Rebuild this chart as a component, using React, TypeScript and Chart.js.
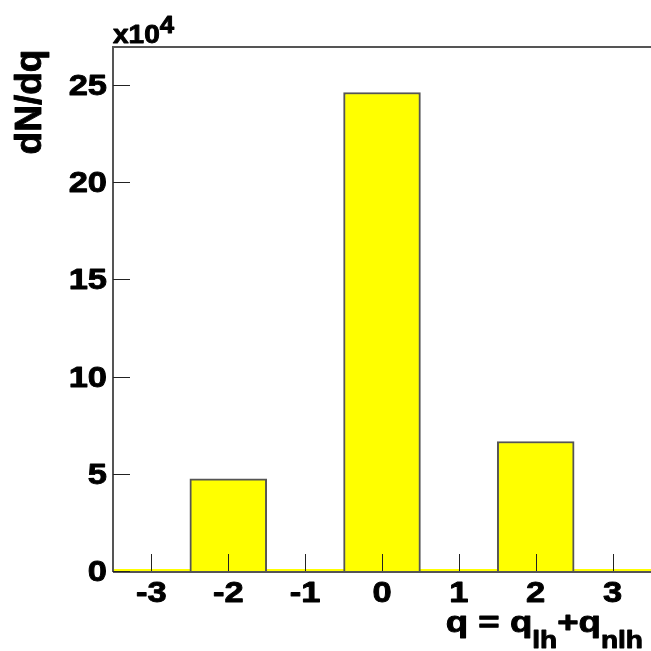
import React, { useEffect, useRef } from 'react';
import { Chart, registerables } from 'chart.js';

Chart.register(...registerables);

// ---- data ----
const categories: string[] = ['-3', '-2', '-1', '0', '1', '2', '3'];
const counts: number[] = [0, 47400, 0, 246100, 0, 66600, 0];
const yTickValues: number[] = [0, 50000, 100000, 150000, 200000, 250000];
const yMax = 269500;
const yExponent = 4;
const yTitle = 'dN/dq';
const xTitleParts: { text: string; sub: boolean }[] = [
  { text: 'q = q', sub: false },
  { text: 'lh', sub: true },
  { text: '+q', sub: false },
  { text: 'nlh', sub: true },
];

const FONT = '"Liberation Sans", Arial, Helvetica, sans-serif';
const FRAME = '#555555';

function sText(ctx: CanvasRenderingContext2D, text: string, x: number, y: number, align: CanvasTextAlign, font: string, sx: number) {
  ctx.save();
  ctx.font = font;
  ctx.translate(x, y);
  ctx.scale(sx, 1);
  ctx.textAlign = align;
  ctx.textBaseline = 'alphabetic';
  ctx.fillStyle = '#000';
  ctx.strokeStyle = '#000';
  ctx.lineWidth = 0.9;
  ctx.lineJoin = 'round';
  ctx.fillText(text, 0, 0);
  ctx.strokeText(text, 0, 0);
  ctx.restore();
}

const rootPlugin = {
  id: 'rootStyle',
  beforeDatasetsDraw(chart: any) {
    const { ctx, chartArea } = chart;
    const y = chart.scales.y;
    const p0 = y.getPixelForValue(0);
    ctx.save();
    ctx.fillStyle = '#ffff00';
    ctx.fillRect(chartArea.left, p0 - 2, chartArea.right - chartArea.left, 2);
    ctx.restore();
  },
  afterDraw(chart: any) {
    const { ctx, chartArea } = chart;
    const { left, top, right, bottom } = chartArea;
    const xs = chart.scales.x;
    const ys = chart.scales.y;
    ctx.save();
    // frame
    ctx.strokeStyle = FRAME;
    ctx.lineWidth = 2;
    ctx.beginPath();
    ctx.moveTo(left, bottom + 1);
    ctx.lineTo(left, top);
    ctx.lineTo(right + 2, top);
    ctx.moveTo(left, bottom + 1);
    ctx.lineTo(right + 2, bottom + 1);
    ctx.stroke();

    // ticks
    ctx.strokeStyle = '#222';
    ctx.lineWidth = 1;
    ctx.beginPath();
    yTickValues.forEach((v) => {
      const p = Math.round(ys.getPixelForValue(v)) + 0.5;
      ctx.moveTo(left, p);
      ctx.lineTo(left + 17, p);
    });
    categories.forEach((_, i) => {
      const p = Math.round(xs.getPixelForValue(i)) + 0.5;
      ctx.moveTo(p, bottom);
      ctx.lineTo(p, bottom - 17);
    });
    ctx.stroke();

    const tickFont = `bold 30px ${FONT}`;
    yTickValues.forEach((v) => {
      const p = ys.getPixelForValue(v);
      sText(ctx, String(v / Math.pow(10, yExponent)), left - 6, p + 10, 'right', tickFont, 1.15);
    });
    categories.forEach((c, i) => {
      const p = xs.getPixelForValue(i);
      sText(ctx, c, p, bottom + 31, 'center', tickFont, 1.15);
    });

    // exponent
    const expFont = `bold 25px ${FONT}`;
    const base = 'x10';
    ctx.font = expFont;
    const bw = ctx.measureText(base).width * 1.12;
    sText(ctx, base, left, top - 4, 'left', expFont, 1.12);
    sText(ctx, String(yExponent), left + bw, top - 14, 'left', `bold 23px ${FONT}`, 1.12);

    // y title
    ctx.save();
    ctx.translate(41, 102);
    ctx.rotate(-Math.PI / 2);
    sText(ctx, yTitle, 0, 0, 'center', `bold 37px ${FONT}`, 1);
    ctx.restore();

    // x title (right aligned)
    const mainFont = `bold 30px ${FONT}`;
    const subFont = `bold 23px ${FONT}`;
    const sx = 1.22;
    let total = 0;
    xTitleParts.forEach((pt) => {
      ctx.font = pt.sub ? subFont : mainFont;
      total += ctx.measureText(pt.text).width * sx;
    });
    let x = 643 - total;
    xTitleParts.forEach((pt) => {
      const f = pt.sub ? subFont : mainFont;
      sText(ctx, pt.text, x, pt.sub ? 648 : 632, 'left', f, sx);
      ctx.font = f;
      x += ctx.measureText(pt.text).width * sx;
    });
    ctx.restore();
  },
};

export default function App() {
  const ref = useRef<HTMLCanvasElement>(null);
  useEffect(() => {
    if (!ref.current) return;
    const chart = new Chart(ref.current, {
      type: 'bar',
      data: {
        labels: categories,
        datasets: [
          {
            data: counts,
            backgroundColor: '#ffff00',
            borderColor: FRAME,
            borderWidth: 2,
            borderSkipped: 'bottom',
            barPercentage: 1,
            categoryPercentage: 1,
          },
        ],
      },
      options: {
        animation: false,
        responsive: false,
        devicePixelRatio: 1,
        layout: { padding: { left: 113, top: 47, right: 0, bottom: 80 } },
        plugins: { legend: { display: false }, tooltip: { enabled: false } },
        scales: {
          x: { type: 'category', display: false, offset: true },
          y: { display: false, min: 0, max: yMax },
        },
      },
      plugins: [rootPlugin],
    });
    return () => chart.destroy();
  }, []);
  return (
    <div style={{ position: 'fixed', left: 0, top: 0, width: 651, height: 651, background: '#fff' }}>
      <canvas ref={ref} width={651} height={651} />
    </div>
  );
}
